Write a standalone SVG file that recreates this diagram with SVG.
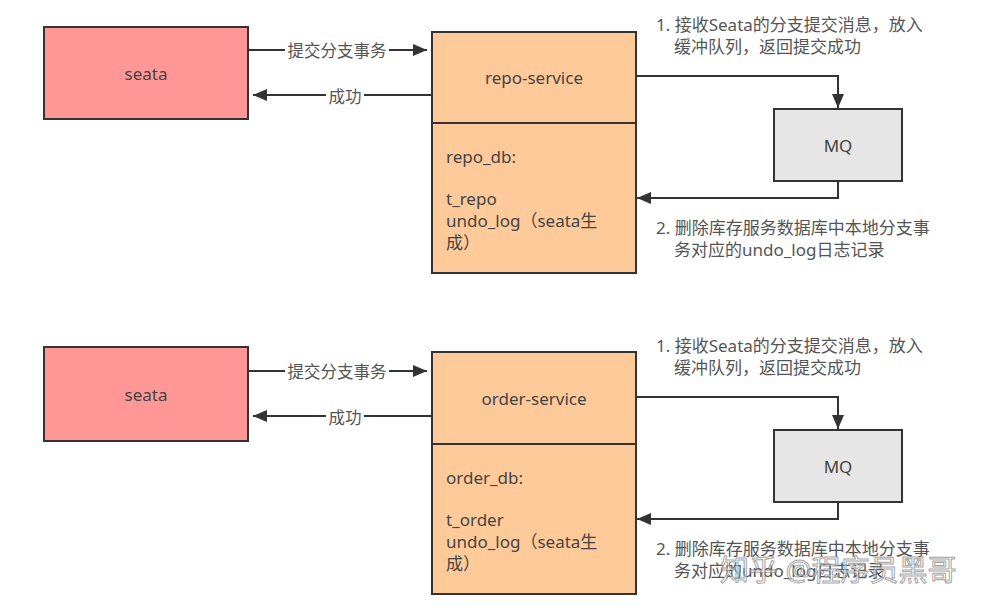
<svg xmlns="http://www.w3.org/2000/svg" width="1004" height="607" viewBox="0 0 1004 607">
<style>
text{font-family:"Noto Sans","Noto Sans CJK SC",sans-serif;}
.box{stroke:#333;stroke-width:2;}
.seata{fill:#FF9797;}
.svc{fill:#FFCA99;}
.mq{fill:#E6E6E6;}
.t{font-size:17px;fill:#444;}
.c{text-anchor:middle;dominant-baseline:central;}
.note{font-size:17px;fill:#555;}
.line{fill:none;stroke:#333;stroke-width:2;}
.lbl{font-size:16.5px;fill:#555;text-anchor:middle;dominant-baseline:central;}
</style>
<defs>
<marker id="ah" viewBox="0 0 14 12" refX="14" refY="6" markerWidth="14" markerHeight="12" markerUnits="userSpaceOnUse" orient="auto">
<path d="M0,0 L14,6 L0,12 Z" fill="#333"/>
</marker>
</defs>
<rect width="1004" height="607" fill="#fff"/>

<g id="connectors">
<path class="line" d="M248,50 H427" marker-end="url(#ah)"/>
<path class="line" d="M432,95 H253" marker-end="url(#ah)"/>
<path class="line" d="M636,76 H838 V108" marker-end="url(#ah)"/>
<path class="line" d="M838,181 V198 H637" marker-end="url(#ah)"/>
<path class="line" d="M248,371 H427" marker-end="url(#ah)"/>
<path class="line" d="M432,416 H253" marker-end="url(#ah)"/>
<path class="line" d="M636,397 H838 V429" marker-end="url(#ah)"/>
<path class="line" d="M838,502 V519 H637" marker-end="url(#ah)"/>
<rect x="285" y="40" width="104" height="20" fill="#fff"/>
<text class="lbl" x="337" y="50">提交分支事务</text>
<rect x="326" y="85" width="38" height="20" fill="#fff"/>
<text class="lbl" x="345" y="96">成功</text>
<rect x="285" y="361" width="104" height="20" fill="#fff"/>
<text class="lbl" x="337" y="371">提交分支事务</text>
<rect x="326" y="406" width="38" height="20" fill="#fff"/>
<text class="lbl" x="345" y="417">成功</text>
</g>

<g id="seata1">
<rect class="box seata" x="44" y="27" width="204" height="92"/>
<text class="t c" x="146" y="73">seata</text>
</g>
<g id="repo-service">
<rect class="box svc" x="432" y="32" width="204" height="241"/>
<line class="box" x1="432" y1="123" x2="636" y2="123"/>
<text class="t c" x="534" y="77">repo-service</text>
<text class="t" x="446" y="163">repo_db:</text>
<text class="t" x="446" y="205">t_repo</text>
<text class="t" x="446" y="227">undo_log（seata生</text>
<text class="t" x="446" y="249">成）</text>
</g>
<g id="mq1">
<rect class="box mq" x="774" y="109" width="128" height="72"/>
<text class="t c" x="838" y="145">MQ</text>
</g>
<g id="note1">
<text class="note" x="656" y="31">1. 接收Seata的分支提交消息，放入</text>
<text class="note" x="674" y="53">缓冲队列，返回提交成功</text>
</g>
<g id="note2">
<text class="note" x="656" y="234">2. 删除库存服务数据库中本地分支事</text>
<text class="note" x="674" y="256">务对应的undo_log日志记录</text>
</g>

<g id="seata2">
<rect class="box seata" x="44" y="347" width="204" height="94"/>
<text class="t c" x="146" y="394">seata</text>
</g>
<g id="order-service">
<rect class="box svc" x="432" y="352" width="204" height="242"/>
<line class="box" x1="432" y1="444" x2="636" y2="444"/>
<text class="t c" x="534" y="398">order-service</text>
<text class="t" x="446" y="484">order_db:</text>
<text class="t" x="446" y="526">t_order</text>
<text class="t" x="446" y="548">undo_log（seata生</text>
<text class="t" x="446" y="570">成）</text>
</g>
<g id="mq2">
<rect class="box mq" x="774" y="430" width="128" height="72"/>
<text class="t c" x="838" y="466">MQ</text>
</g>
<g id="note3">
<text class="note" x="656" y="352">1. 接收Seata的分支提交消息，放入</text>
<text class="note" x="674" y="374">缓冲队列，返回提交成功</text>
</g>
<g id="note4">
<text class="note" x="656" y="555">2. 删除库存服务数据库中本地分支事</text>
<text class="note" x="674" y="577">务对应的undo_log日志记录</text>
</g>
<text x="720" y="581" font-size="29" fill="#fff" fill-opacity="0.5" stroke="#777" stroke-width="1" stroke-opacity="0.7" font-family="Noto Sans CJK SC, sans-serif">知乎 @程序员黑哥</text>
</svg>
